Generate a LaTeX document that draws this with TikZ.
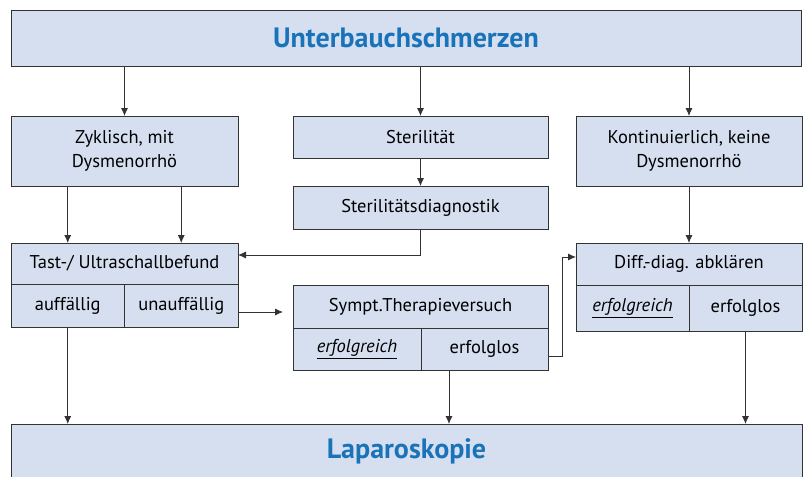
\documentclass[tikz,border=0pt]{standalone}
\usepackage{fontspec}
\setmainfont{PT Sans}
\usepackage{tikz}
\usetikzlibrary{arrows.meta, positioning}
\definecolor{boxblue}{HTML}{D5DFF0}
\definecolor{titleblue}{HTML}{1A73B9}
\definecolor{linegray}{HTML}{333333}
\tikzstyle{box} = [rectangle, draw = linegray, fill = boxblue, line width = 0.9pt, inner sep = 0pt, outer sep = 0pt, align = center, font = \fontsize{18.5}{24}\selectfont]
\tikzstyle{headline} = [box, font = \fontsize{28}{32}\selectfont\bfseries, text = titleblue]
\tikzstyle{arrow} = [line width = 0.8pt, draw = linegray, ->, >={Latex[length=8pt, width=7pt]}]

\begin{document}
\begin{tikzpicture}
	\useasboundingbox (0pt,0pt) rectangle (804pt,-477pt);

	% Top and bottom boxes - - - - - - - - - - - - - - - - - - - - - - - - - -
	\node(ubs)[headline, minimum width = 790pt, minimum height = 56pt, anchor = north west] at (11pt,-10pt)
		{Unterbauchschmerzen};

	% Left column . . . . . . . . . . . . . . . . . . . . . . . . . . . . . . .
	\node(zykl)[box, below right = 50pt and 0pt of ubs.south west, minimum width = 227pt, minimum height = 70pt]
		{Zyklisch, mit\\Dysmenorrhö};
	\node(tast)[box, below right = 57pt and 0pt of zykl.south west, minimum width = 227pt, minimum height = 41pt]
		{Tast-/ Ultraschallbefund};
		\node(tastauf)[box, below right = 0pt and 0pt of tast.south west, minimum width = 113.5pt, minimum height = 43pt]
			{auffällig};
		\node(tastunauf)[box, below left = 0pt and 0pt of tast.south east, minimum width = 113.5pt, minimum height = 43pt]
			{unauffällig};

	% Middle column . . . . . . . . . . . . . . . . . . . . . . . . . . . . . .
	\node(steril)[box, below right = 0pt and 55pt of zykl.north east, minimum width = 255pt, minimum height = 42pt]
		{Sterilität};
	\node(sdiag)[box, below right = 28pt and 0pt of steril.south west, minimum width = 255pt, minimum height = 43pt]
		{Sterilitätsdiagnostik};
	\node(sympt)[box, below right = 56pt and 0pt of sdiag.south west, minimum width = 255pt, minimum height = 43pt]
		{Sympt.Therapieversuch};
		\node(symptok)[box, below right = 0pt and 0pt of sympt.south west, minimum width = 128pt, minimum height = 42pt]
			{\underline{\textit{erfolgreich}}};
		\node(symptfail)[box, below left = 0pt and 0pt of sympt.south east, minimum width = 127pt, minimum height = 42pt]
			{erfolglos};

	% Right column . . . . . . . . . . . . . . . . . . . . . . . . . . . . . . .
	\node(kont)[box, below right = 0pt and 28pt of steril.north east, minimum width = 226pt, minimum height = 70pt]
		{Kontinuierlich, keine\\Dysmenorrhö};
	\node(diff)[box, below right = 57pt and 0pt of kont.south west, minimum width = 226pt, minimum height = 42pt]
		{Diff.-diag. abklären};
		\node(diffok)[box, below right = 0pt and 0pt of diff.south west, minimum width = 113pt, minimum height = 46pt]
			{\underline{\textit{erfolgreich}}};
		\node(difffail)[box, below left = 0pt and 0pt of diff.south east, minimum width = 113pt, minimum height = 46pt]
			{erfolglos};

	\node(lap)[headline, below right = 97pt and 0pt of tastauf.south west, minimum width = 791pt, minimum height = 55pt]
		{Laparoskopie};

	% Arrows - - - - - - - - - - - - - - - - - - - - - - - - - - - - - - - - -
	\draw[arrow](ubs.south -| zykl.north)--(zykl.north);
	\draw[arrow](ubs.south -| steril.north)--(steril.north);
	\draw[arrow](ubs.south -| kont.north)--(kont.north);
	\draw[arrow](zykl.south -| tastauf)--(tast.north -| tastauf);
	\draw[arrow](zykl.south -| tastunauf)--(tast.north -| tastunauf);
	\draw[arrow](steril)--(sdiag);
	\draw[arrow](sdiag.south)|-([yshift=8.5pt]tast.east);
	\draw[arrow, shorten >=10pt]([yshift=-6.5pt]tastunauf.east)--([yshift=-6.5pt]tastunauf.east -| sympt.west);
	\draw[arrow]([yshift=-7pt]symptfail.east)--++(14pt,0)|-([yshift=7pt]diff.west);
	\draw[arrow](kont)--(diff);

	% Arrows to Laparoskopie
	\draw[arrow](tastauf.south)--(tastauf.south |- lap.north);
	\draw[arrow]([xshift=28pt]symptfail.south west)--([xshift=28pt]symptfail.south west |- lap.north);
	\draw[arrow](difffail.south)--(difffail.south |- lap.north);

\end{tikzpicture}
\end{document}
